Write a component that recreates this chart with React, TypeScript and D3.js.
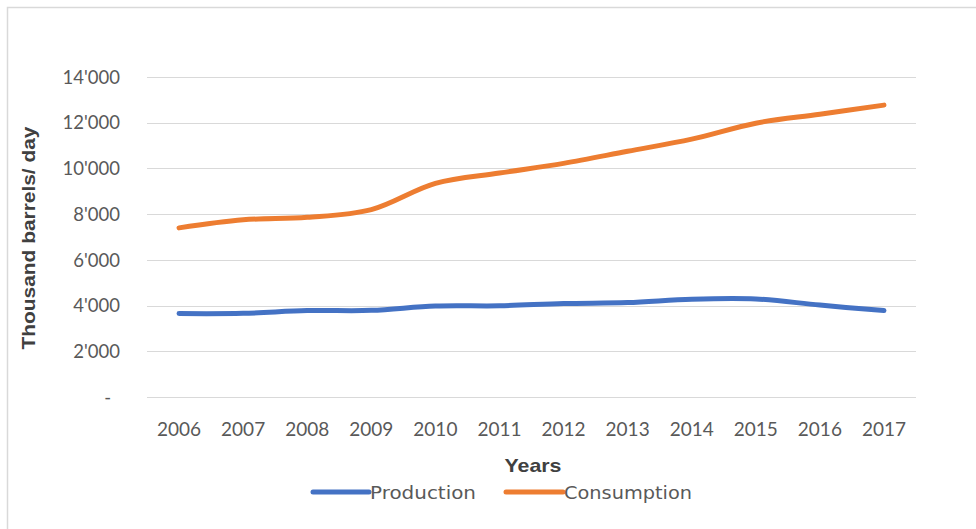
import React from "react";
import * as d3 from "d3";

const years = ["2006", "2007", "2008", "2009", "2010", "2011", "2012", "2013", "2014", "2015", "2016", "2017"];
const production = [3650, 3660, 3780, 3790, 3980, 3990, 4090, 4130, 4280, 4290, 4020, 3780];
const consumption = [7400, 7750, 7860, 8200, 9350, 9800, 10220, 10750, 11280, 11980, 12370, 12770];
const yTicks = [0, 2000, 4000, 6000, 8000, 10000, 12000, 14000];
const seriesNames = ["Production", "Consumption"];
const seriesColors = ["#4472C4", "#ED7D31"];

const W = 976;
const H = 529;
const plot = { left: 147, right: 916, top: 77, bottom: 397 };

const fmt = (v: number) => (v === 0 ? "-" : d3.format(",")(v).replace(/,/g, "'"));

export default function App() {
  const x = d3.scaleBand<string>().domain(years).range([plot.left, plot.right]);
  const y = d3.scaleLinear().domain([0, 14000]).range([plot.bottom, plot.top]);
  const cx = (yr: string) => (x(yr) as number) + x.bandwidth() / 2;

  const line = d3
    .line<number>()
    .x((_, i) => cx(years[i]))
    .y((v) => y(v))
    .curve(d3.curveCatmullRom.alpha(0.5));

  const series = [production, consumption];
  const tickFont = "Lato, 'Open Sans', sans-serif";

  const legend = [
    { lx1: 313, lx2: 369, tx: 370, tw: 106 },
    { lx1: 506, lx2: 563, tx: 564, tw: 128 },
  ];

  return (
    <svg
      width={W}
      height={H}
      style={{ position: "absolute", left: 0, top: 0, background: "#fff" }}
    >
      <rect x={7.5} y={7.5} width={W} height={H} fill="#fff" stroke="#d9d9d9" strokeWidth={1.5} />

      {/* horizontal gridlines */}
      {yTicks.map((t) => (
        <line
          key={"g" + t}
          x1={plot.left}
          x2={plot.right}
          y1={Math.round(y(t)) + 0.5}
          y2={Math.round(y(t)) + 0.5}
          stroke="#d9d9d9"
          strokeWidth={1.2}
        />
      ))}

      {/* y tick labels */}
      {yTicks.map((t) => (
        <text
          key={"yt" + t}
          x={t === 0 ? 111 : 120}
          y={y(t)}
          dy="0.36em"
          textAnchor="end"
          fontFamily={tickFont}
          fontSize={18.5}
          fill="#595959"
        >
          {fmt(t)}
        </text>
      ))}

      {/* x tick labels */}
      {years.map((yr) => (
        <text
          key={"xt" + yr}
          x={cx(yr)}
          y={436}
          textAnchor="middle"
          fontFamily={tickFont}
          fontSize={19}
          fill="#595959"
        >
          {yr}
        </text>
      ))}

      {/* axis titles */}
      <text
        x={533}
        y={472}
        textAnchor="middle"
        fontFamily="'Liberation Sans Narrow', 'Liberation Sans', sans-serif"
        fontWeight="bold"
        fontSize={19}
        textLength={57}
        lengthAdjust="spacingAndGlyphs"
        fill="#404040"
      >
        Years
      </text>
      <text
        transform="translate(35,238) rotate(-90)"
        textAnchor="middle"
        fontFamily="'Liberation Sans Narrow', 'Liberation Sans', sans-serif"
        fontWeight="bold"
        fontSize={19}
        textLength={223}
        lengthAdjust="spacingAndGlyphs"
        fill="#404040"
      >
        Thousand barrels/ day
      </text>

      {/* series lines */}
      {series.map((vals, i) => (
        <path
          key={seriesNames[i]}
          d={line(vals) as string}
          fill="none"
          stroke={seriesColors[i]}
          strokeWidth={5}
          strokeLinecap="round"
          strokeLinejoin="round"
        />
      ))}

      {/* legend */}
      {seriesNames.map((name, i) => (
        <g key={"lg" + name}>
          <line
            x1={legend[i].lx1}
            x2={legend[i].lx2}
            y1={492}
            y2={492}
            stroke={seriesColors[i]}
            strokeWidth={5}
            strokeLinecap="round"
          />
          <text
            x={legend[i].tx}
            y={499}
            fontFamily="'DejaVu Sans', sans-serif"
            fontSize={17}
            textLength={legend[i].tw}
            lengthAdjust="spacingAndGlyphs"
            fill="#595959"
          >
            {name}
          </text>
        </g>
      ))}
    </svg>
  );
}
